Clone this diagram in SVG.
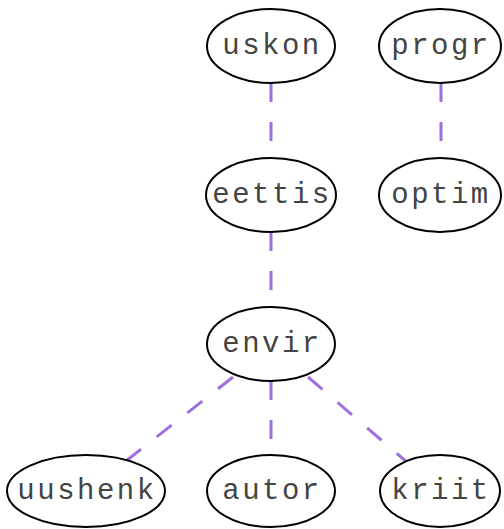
<svg xmlns="http://www.w3.org/2000/svg" width="504" height="529" viewBox="0 0 504 529">
<style>
.n ellipse{fill:#fff;stroke:#000;stroke-width:2}
.n text{font-family:"Liberation Mono",monospace;font-size:29px;letter-spacing:2.5px;fill:#444;text-anchor:middle;dominant-baseline:central}
#edges line{stroke:#9d6fe0;stroke-width:3;stroke-dasharray:19 20}
</style>
<rect width="504" height="529" fill="#fff"/>
<g id="edges">
<line x1="271" y1="83" x2="271" y2="157"/>
<line x1="441" y1="83" x2="441" y2="157"/>
<line x1="271" y1="232" x2="271" y2="307"/>
<line x1="233" y1="377" x2="126" y2="461"/>
<line x1="271" y1="381" x2="271" y2="455"/>
<line x1="308" y1="377" x2="408" y2="463"/>
</g>
<g id="uskon" class="n"><ellipse cx="271" cy="46" rx="64" ry="37"/><text x="272" y="46">uskon</text></g>
<g id="progr" class="n"><ellipse cx="440" cy="46" rx="61" ry="37"/><text x="441" y="46">progr</text></g>
<g id="eettis" class="n"><ellipse cx="271" cy="195" rx="65" ry="37"/><text x="272" y="195">eettis</text></g>
<g id="optim" class="n"><ellipse cx="440" cy="195" rx="61" ry="37"/><text x="441" y="195">optim</text></g>
<g id="envir" class="n"><ellipse cx="271" cy="344" rx="64" ry="37"/><text x="272" y="344">envir</text></g>
<g id="uushenk" class="n"><ellipse cx="86" cy="491" rx="79" ry="36"/><text x="87" y="491">uushenk</text></g>
<g id="autor" class="n"><ellipse cx="271" cy="491" rx="64" ry="36"/><text x="272" y="491">autor</text></g>
<g id="kriit" class="n"><ellipse cx="440" cy="491" rx="60" ry="36"/><text x="441" y="491">kriit</text></g>
</svg>
